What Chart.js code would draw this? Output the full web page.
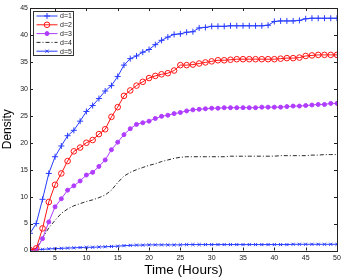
<!DOCTYPE html>
<html>
<head>
<meta charset="utf-8">
<script src="https://cdn.jsdelivr.net/npm/chart.js@4.4.0/dist/chart.umd.min.js"></script>
<style>
  html, body { margin: 0; padding: 0; background: #fff; }
  #wrap { width: 346px; height: 278px; }
</style>
</head>
<body>
<div id="wrap"><canvas id="c" width="346" height="278"></canvas></div>
<script>
// du lieu doc tu hinh
const hours = [1,2,3,4,5,6,7,8,9,10,11,12,13,14,15,16,17,18,19,20,21,22,23,24,25,
  26,27,28,29,30,31,32,33,34,35,36,37,38,39,40,41,42,43,44,45,46,47,48,49,50];
const xTicks = [5,10,15,20,25,30,35,40,45,50];
const yTicks = [0,5,10,15,20,25,30,35,40,45];
const seriesNames = ["d=1","d=2","d=3","d=4","d=5"];

const d1 = [3.2,5.0,9.5,14.3,17.4,19.4,21.3,22.3,24.0,25.8,26.9,28.2,29.6,30.6,32.3,34.4,35.6,36.1,36.8,37.3,
  38.2,39.0,39.6,40.1,40.2,40.5,40.6,41.3,41.4,41.6,41.6,41.6,41.7,41.7,41.7,41.7,41.7,41.7,41.8,42.5,
  42.6,42.6,42.6,42.7,43.0,43.1,43.1,43.1,43.1,43.1];
const d2 = [0.1,0.4,4.1,9.0,12.2,14.3,16.6,18.4,19.1,20.0,20.5,21.6,22.5,24.8,26.6,28.7,29.7,30.6,31.3,32.0,
  32.4,32.7,32.9,33.4,34.4,34.4,34.5,34.7,34.9,35.1,35.3,35.3,35.4,35.5,35.5,35.5,35.5,35.5,35.5,35.5,
  35.6,35.7,35.7,35.8,36.1,36.2,36.3,36.3,36.3,36.3];
const d3 = [0.0,0.1,2.2,5.3,8.1,9.6,11.2,12.0,12.9,14.0,14.5,15.6,16.8,18.7,20.1,21.5,22.6,23.4,23.7,24.0,
  24.5,24.9,25.1,25.4,25.6,25.9,26.1,26.2,26.3,26.4,26.4,26.5,26.5,26.5,26.5,26.5,26.5,26.6,26.6,26.6,
  26.6,26.7,26.8,26.8,26.9,27.0,27.1,27.1,27.3,27.3];
const d4 = [0.0,0.3,2.3,4.2,5.6,6.9,7.7,8.3,8.7,9.1,9.4,9.8,10.3,11.2,12.6,13.8,14.5,15.0,15.4,15.8,
  16.1,16.5,16.8,17.1,17.3,17.4,17.4,17.4,17.4,17.4,17.4,17.4,17.5,17.5,17.5,17.5,17.5,17.5,17.5,17.5,
  17.6,17.6,17.6,17.6,17.6,17.7,17.7,17.8,17.8,17.8];
const d5 = [0.05,0.1,0.2,0.3,0.35,0.4,0.45,0.5,0.55,0.6,0.6,0.65,0.7,0.75,0.8,0.9,0.95,1.0,1.0,1.05,
  1.05,1.05,1.05,1.05,1.05,1.1,1.1,1.1,1.1,1.1,1.1,1.1,1.1,1.1,1.1,1.1,1.1,1.1,1.1,1.1,
  1.1,1.1,1.15,1.15,1.15,1.15,1.15,1.15,1.15,1.15];

const blue = "rgb(40,60,255)";
const red = "rgb(255,20,20)";
const purple = "rgb(175,60,255)";
const tickFont = { family: "Liberation Sans, Arial, sans-serif", size: 7 };

function pts(vals) {
  return hours.map((h, i) => ({ x: h, y: vals[i] }));
}

// ve hop, vach chia huong vao trong va chu thich
const boxPlugin = {
  id: "boxPlugin",
  afterDraw(chart) {
    const ctx = chart.ctx;
    const a = chart.chartArea;
    const xs = chart.scales.x, ys = chart.scales.y;
    ctx.save();
    ctx.strokeStyle = "#222";
    ctx.lineWidth = 1;
    ctx.beginPath();
    xTicks.forEach(t => {
      const px = Math.round(xs.getPixelForValue(t)) + 0.5;
      ctx.moveTo(px, a.bottom); ctx.lineTo(px, a.bottom - 3);
      ctx.moveTo(px, a.top); ctx.lineTo(px, a.top + 3);
    });
    yTicks.forEach(t => {
      const py = Math.round(ys.getPixelForValue(t)) + 0.5;
      ctx.moveTo(a.left, py); ctx.lineTo(a.left + 3, py);
      ctx.moveTo(a.right, py); ctx.lineTo(a.right - 3, py);
    });
    ctx.stroke();
    ctx.strokeRect(Math.round(a.left) + 0.5, Math.round(a.top) + 0.5,
      Math.round(a.right - a.left), Math.round(a.bottom - a.top));

    // chu thich
    const lx = 33.5, ly = 11.5, lw = 40, lh = 44;
    ctx.fillStyle = "#fff";
    ctx.fillRect(lx, ly, lw, lh);
    ctx.strokeStyle = "#333";
    ctx.strokeRect(lx, ly, lw, lh);
    ctx.font = "7px Liberation Sans, Arial, sans-serif";
    ctx.textBaseline = "middle";
    chart.data.datasets.forEach((ds, i) => {
      const y = ly + 4.5 + i * 8.8;
      ctx.save();
      ctx.strokeStyle = ds.borderColor;
      ctx.lineWidth = ds.borderWidth;
      ctx.setLineDash(ds.borderDash || []);
      ctx.beginPath();
      ctx.moveTo(lx + 3, y); ctx.lineTo(lx + 24, y);
      ctx.stroke();
      ctx.restore();
      if (ds.pointRadius > 0) {
        ctx.save();
        ctx.fillStyle = ds.pointBackgroundColor;
        ctx.strokeStyle = ds.borderColor;
        ctx.lineWidth = ds.pointBorderWidth || 1;
        Chart.helpers.drawPoint(ctx, {
          pointStyle: ds.pointStyle, radius: ds.pointRadius, rotation: 0,
          borderWidth: ds.pointBorderWidth || 1
        }, lx + 13.5, y);
        ctx.restore();
      }
      ctx.fillStyle = "#222";
      ctx.fillText(seriesNames[i], lx + 26.5, y + 0.5);
    });
    ctx.restore();
  }
};

new Chart(document.getElementById("c").getContext("2d"), {
  type: "line",
  data: {
    datasets: [
      { label: seriesNames[0], data: pts(d1), borderColor: blue, borderWidth: 1,
        pointStyle: "cross", pointRadius: 3, pointBorderWidth: 1,
        pointBorderColor: blue, pointBackgroundColor: blue },
      { label: seriesNames[1], data: pts(d2), borderColor: red, borderWidth: 1,
        pointStyle: "circle", pointRadius: 2.8, pointBorderWidth: 1,
        pointBorderColor: red, pointBackgroundColor: "rgba(0,0,0,0)" },
      { label: seriesNames[2], data: pts(d3), borderColor: purple, borderWidth: 1,
        pointStyle: "circle", pointRadius: 2, pointBorderWidth: 1,
        pointBorderColor: purple, pointBackgroundColor: purple },
      { label: seriesNames[3], data: pts(d4), borderColor: "#111", borderWidth: 0.9,
        borderDash: [4, 2, 1, 2], pointRadius: 0 },
      { label: seriesNames[4], data: pts(d5), borderColor: blue, borderWidth: 1,
        pointStyle: "crossRot", pointRadius: 2.2, pointBorderWidth: 1,
        pointBorderColor: blue, pointBackgroundColor: blue }
    ]
  },
  options: {
    responsive: false,
    animation: false,
    layout: { padding: { left: 0, right: 9, top: 8, bottom: 0 } },
    plugins: {
      legend: { display: false },
      tooltip: { enabled: false }
    },
    scales: {
      x: {
        type: "linear", min: 1, max: 50,
        afterBuildTicks: s => { s.ticks = xTicks.map(v => ({ value: v })); },
        afterFit: s => { s.height = 27.5; },
        grid: { display: false, drawTicks: false },
        border: { display: false },
        ticks: { font: tickFont, color: "#222", padding: 3, maxRotation: 0 },
        title: { display: true, text: "Time (Hours)", color: "#000",
          font: { family: "Liberation Sans, Arial, sans-serif", size: 13.5 }, padding: { top: 2, bottom: 0 } }
      },
      y: {
        min: 0, max: 45,
        afterBuildTicks: s => { s.ticks = yTicks.map(v => ({ value: v })); },
        afterFit: s => { s.width = 30; },
        grid: { display: false, drawTicks: false },
        border: { display: false },
        ticks: { font: tickFont, color: "#222", padding: 2 },
        title: { display: true, text: "Density", color: "#000",
          font: { family: "Liberation Sans, Arial, sans-serif", size: 12 }, padding: { top: 0, bottom: 1 } }
      }
    }
  },
  plugins: [boxPlugin]
});
</script>
</body>
</html>
